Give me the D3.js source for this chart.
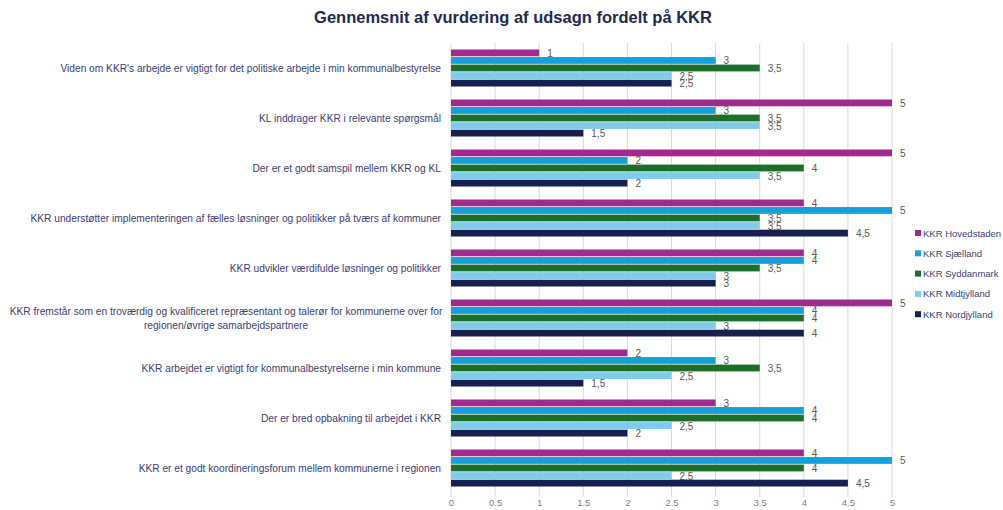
<!DOCTYPE html>
<html>
<head>
<meta charset="utf-8">
<script src="https://cdn.jsdelivr.net/npm/d3@7"></script>
<style>
  body { margin: 0; background: #fff; }
  svg { font-family: "Liberation Sans", Arial, sans-serif; }
</style>
</head>
<body>
<svg id="chart" width="1003" height="510"></svg>
<script>
// categories (top to bottom)
const categories = [
    "Viden om KKR's arbejde er vigtigt for det politiske arbejde i min kommunalbestyrelse",
    "KL inddrager KKR i relevante spørgsmål",
    "Der er et godt samspil mellem KKR og KL",
    "KKR understøtter implementeringen af fælles løsninger og politikker på tværs af kommuner",
    "KKR udvikler værdifulde løsninger og politikker",
    "KKR fremstår som en troværdig og kvalificeret repræsentant og talerør for kommunerne over for regionen/øvrige samarbejdspartnere",
    "KKR arbejdet er vigtigt for kommunalbestyrelserne i min kommune",
    "Der er bred opbakning til arbejdet i KKR",
    "KKR er et godt koordineringsforum mellem kommunerne i regionen"
];

const seriesNames = ["KKR Hovedstaden", "KKR Sjælland", "KKR Syddanmark", "KKR Midtjylland", "KKR Nordjylland"];
const seriesColors = ["#a02b8f", "#14a0d8", "#1c6e2b", "#80cbeb", "#161f4e"];

const hovedstaden = [1, 5, 5, 4, 4, 5, 2, 3, 4];
const sjaelland   = [3, 3, 2, 5, 4, 4, 3, 4, 5];
const syddanmark  = [3.5, 3.5, 4, 3.5, 3.5, 4, 3.5, 4, 4];
const midtjylland = [2.5, 3.5, 3.5, 3.5, 3, 3, 2.5, 2.5, 2.5];
const nordjylland = [2.5, 1.5, 2, 4.5, 3, 4, 1.5, 2, 4.5];

const seriesValues = [hovedstaden, sjaelland, syddanmark, midtjylland, nordjylland];

const xTicks = [0, 0.5, 1, 1.5, 2, 2.5, 3, 3.5, 4, 4.5, 5];

const svg = d3.select('#chart');

const margin = {top: 43, bottom: 493, left: 451, right: 892};

const x = d3.scaleLinear()
            .domain([0, 5])
            .range([margin.left, margin.right]);

const y = d3.scaleBand()
            .domain(d3.range(categories.length))
            .range([margin.top, margin.bottom])
            .paddingInner(0.26)
            .paddingOuter(0.13);

const ySub = d3.scaleBand()
               .domain(d3.range(seriesNames.length))
               .range([0, y.bandwidth()])
               .paddingInner(0.1);

// title
svg.append('text')
    .attr('x', 513)
    .attr('y', 23)
    .attr('text-anchor', 'middle')
    .style('font-size', '16.5px')
    .style('font-weight', 'bold')
    .attr('fill', '#1f2a4f')
    .text('Gennemsnit af vurdering af udsagn fordelt på KKR');

// gridlines
svg.append('g')
    .selectAll('line')
    .data(xTicks)
    .enter()
    .append('line')
    .attr('x1', d => x(d))
    .attr('x2', d => x(d))
    .attr('y1', margin.top)
    .attr('y2', margin.bottom + 4)
    .attr('stroke', '#d9d9d9')
    .attr('stroke-width', 1);

// x axis
const xAxis = svg.append('g')
    .attr('transform', 'translate(0,' + margin.bottom + ')')
    .call(d3.axisBottom(x).tickValues(xTicks).tickSize(0).tickPadding(6).tickFormat(d3.format('')));
xAxis.select('.domain').remove();
xAxis.selectAll('text')
    .attr('fill', '#7f7f7f')
    .style('font-size', '9.5px');

// category labels
const labelRight = 441;
const maxWidth = 440;
const labelSize = '10.2px';
const labels = svg.append('g');
categories.forEach(function (c, i) {
    const cy = y(i) + y.bandwidth() / 2;
    const t = labels.append('text')
        .attr('fill', '#3b4070')
        .style('font-size', labelSize)
        .attr('x', labelRight)
        .attr('y', cy + 3.5)
        .attr('text-anchor', 'end')
        .text(c);
    if (t.node().getComputedTextLength() > maxWidth) {
        // wrap onto two centered lines
        const words = c.split(' ');
        let line1 = [];
        let k = 0;
        for (; k < words.length; k++) {
            t.text(line1.concat(words[k]).join(' '));
            if (t.node().getComputedTextLength() > maxWidth) break;
            line1.push(words[k]);
        }
        t.remove();
        const lines = [line1.join(' '), words.slice(k).join(' ')];
        const w = labels.append('text')
            .attr('fill', '#3b4070')
            .style('font-size', labelSize)
            .attr('text-anchor', 'middle');
        lines.forEach(function (l, j) {
            w.append('tspan')
                .attr('x', 226)
                .attr('y', cy - 3.5 + j * 14)
                .text(l);
        });
    }
});

// bars
const comma = d => String(d).replace('.', ',');
const groups = svg.append('g')
    .selectAll('g')
    .data(categories.map((c, i) => i))
    .enter()
    .append('g')
    .attr('transform', i => 'translate(0,' + y(i) + ')');

const cells = groups.selectAll('g')
    .data(i => seriesValues.map((s, j) => ({series: j, value: s[i]})))
    .enter()
    .append('g');

cells.append('rect')
    .attr('x', x(0))
    .attr('y', d => ySub(d.series))
    .attr('width', d => x(d.value) - x(0))
    .attr('height', ySub.bandwidth())
    .attr('fill', d => seriesColors[d.series]);

cells.append('text')
    .attr('x', d => x(d.value) + 8)
    .attr('y', d => ySub(d.series) + ySub.bandwidth() / 2 + 4)
    .attr('fill', '#595959')
    .style('font-size', '10px')
    .text(d => comma(d.value));

// legend
const legend = svg.append('g')
    .selectAll('g')
    .data(seriesNames)
    .enter()
    .append('g')
    .attr('transform', (d, i) => 'translate(915,' + (233 + i * 20.3) + ')');

legend.append('rect')
    .attr('x', 0)
    .attr('y', -3)
    .attr('width', 6)
    .attr('height', 6)
    .attr('fill', (d, i) => seriesColors[i]);

legend.append('text')
    .attr('x', 8)
    .attr('y', 3.5)
    .attr('fill', '#3b4070')
    .style('font-size', '9.5px')
    .text(d => d);
</script>
</body>
</html>
